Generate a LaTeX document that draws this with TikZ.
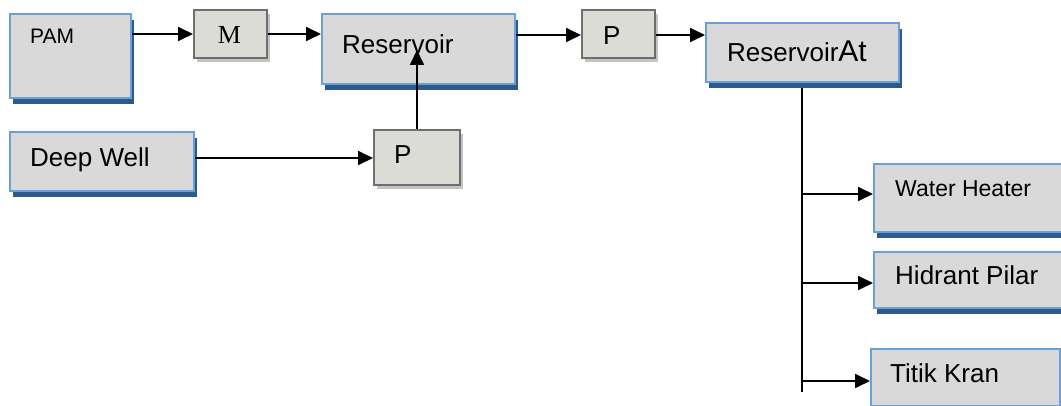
\documentclass[tikz,border=0pt]{standalone}
\usepackage{fontspec}
\setmainfont{Liberation Sans}
\newfontfamily\serifM{Liberation Serif}
\usetikzlibrary{arrows.meta,shadows}
\definecolor{boxfill}{HTML}{D9D9D9}
\definecolor{blueborder}{HTML}{6A9FD8}
\definecolor{shadowblue}{HTML}{2C5A8A}
\definecolor{grayfill}{HTML}{DCDCD6}
\definecolor{grayborder}{HTML}{6E6E6E}
\definecolor{grayshadow}{HTML}{C4C4C4}
\begin{document}
\begin{tikzpicture}[x=1pt,y=-1pt,
  bluebox/.style={draw=blueborder, line width=2pt, fill=boxfill, anchor=north west, inner sep=0pt,
    drop shadow={shadow xshift=3pt, shadow yshift=-6pt, fill=shadowblue, opacity=1}},
  graybox/.style={draw=grayborder, line width=2pt, fill=grayfill, anchor=north west, inner sep=0pt,
    drop shadow={shadow xshift=3pt, shadow yshift=-4pt, fill=grayshadow, opacity=1}},
  txt/.style={anchor=base west, inner sep=0pt, font=\fontsize{26}{30}\selectfont},
  arr/.style={line width=1.8pt, -{Triangle[length=15pt,width=14pt]}},
  ln/.style={line width=1.5pt}]
\clip (0,0) rectangle (1061,406);
\fill[white] (0,0) rectangle (1061,406);
% boxes
\node[bluebox, minimum width=121pt, minimum height=84pt] (pam) at (9,13) {};
\node[graybox, minimum width=73pt, minimum height=48pt] (m) at (193,9) {};
\node[bluebox, minimum width=193pt, minimum height=70pt] (res) at (321,13) {};
\node[graybox, minimum width=73pt, minimum height=48pt] (p1) at (581,9) {};
\node[bluebox, minimum width=193pt, minimum height=59pt] (resat) at (705,22) {};
\node[bluebox, minimum width=184pt, minimum height=59pt] (dw) at (9,131) {};
\node[graybox, minimum width=86pt, minimum height=55pt] (p2) at (373,129) {};
\node[bluebox, minimum width=200pt, minimum height=68pt] (wh) at (873,163) {};
\node[bluebox, minimum width=200pt, minimum height=56pt] (hp) at (873,251) {};
\node[bluebox, minimum width=189pt, minimum height=57pt] (tk) at (870,348) {};
% texts
\node[txt, font=\fontsize{21}{25}\selectfont] (pamt) at (30,44) {PAM};
\node[anchor=base, inner sep=0pt, font=\serifM\fontsize{26}{30}\selectfont] (mt) at (229.5,44) {M};
\node[txt] (rest) at (342,54) {Reservoir};
\node[txt] (p1t) at (603,45) {P};
\node[txt] (resatt) at (727,62) {Reservoir{\fontsize{30}{34}\selectfont At}};
\node[txt] (dwt) at (30,167) {Deep Well};
\node[txt] (p2t) at (394,164) {P};
\node[txt, font=\fontsize{23}{27}\selectfont] (wht) at (895,197) {Water Heater};
\node[txt] (hpt) at (895,285) {Hidrant Pilar};
\node[txt] (tkt) at (890,382) {Titik Kran};
% connectors
\draw[arr] (pam.east |- m.west) -- (m.west);
\draw[arr] (m.east) -- (m.east -| res.west);
\draw[arr] ([yshift=-1pt]res.east |- p1.west) -- ([yshift=-1pt]p1.west);
\draw[arr] ([yshift=-1pt]p1.east) -- ([yshift=-1pt]p1.east -| resat.west);
\draw[arr] (dw.east |- 0,158) -- (p2.west |- 0,158);
\coordinate (up) at (417,50);
\draw[arr] (p2.north -| up) -- (up);
\coordinate (vtop) at (802,88);
\coordinate (vbot) at (802,392);
\draw[ln] (vtop) -- (vbot);
\draw[arr] (802,194) -- (wh.west |- 0,194);
\draw[arr] (802,283) -- (hp.west |- 0,283);
\draw[arr] (802,381) -- (tk.west |- 0,381);
\end{tikzpicture}
\end{document}
